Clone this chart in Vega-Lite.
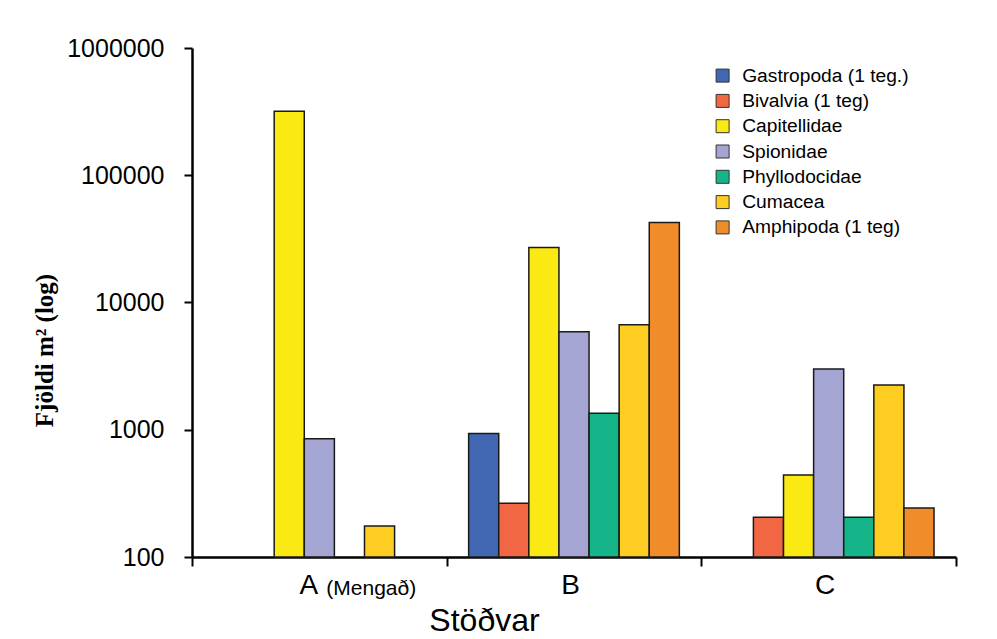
{
  "$schema": "https://vega.github.io/schema/vega-lite/v6.json",
  "width": 764,
  "height": 509,
  "autosize": {"type": "none"},
  "padding": {"left": 192, "top": 48, "right": 41, "bottom": 82},
  "background": "white",
  "config": {
    "view": {"stroke": null},
    "font": "Liberation Sans"
  },
  "datasets": {
    "bars": [
      {"station": "A", "taxon": "Capitellidae", "count": 318000},
      {"station": "A", "taxon": "Spionidae", "count": 850},
      {"station": "A", "taxon": "Cumacea", "count": 175},
      {"station": "B", "taxon": "Gastropoda (1 teg.)", "count": 935},
      {"station": "B", "taxon": "Bivalvia (1 teg)", "count": 265},
      {"station": "B", "taxon": "Capitellidae", "count": 27000},
      {"station": "B", "taxon": "Spionidae", "count": 5900},
      {"station": "B", "taxon": "Phyllodocidae", "count": 1350},
      {"station": "B", "taxon": "Cumacea", "count": 6700},
      {"station": "B", "taxon": "Amphipoda (1 teg)", "count": 42500},
      {"station": "C", "taxon": "Bivalvia (1 teg)", "count": 205},
      {"station": "C", "taxon": "Capitellidae", "count": 440},
      {"station": "C", "taxon": "Spionidae", "count": 3000},
      {"station": "C", "taxon": "Phyllodocidae", "count": 205},
      {"station": "C", "taxon": "Cumacea", "count": 2250},
      {"station": "C", "taxon": "Amphipoda (1 teg)", "count": 243}
    ],
    "notes": [
      {"station": "A", "note": "(Mengað)", "base": 100}
    ]
  },
  "layer": [
    {
      "data": {"name": "bars"},
      "mark": {"type": "bar", "stroke": "#1a1a1a", "strokeWidth": 1.5},
      "encoding": {
        "x": {
          "field": "station",
          "type": "nominal",
          "sort": ["A", "B", "C"],
          "scale": {"domain": ["A", "B", "C"], "paddingInner": 0, "paddingOuter": 0},
          "axis": {
            "title": "Stöðvar",
            "titleFont": "Liberation Sans",
            "titleFontSize": 32,
            "titleFontWeight": "normal",
            "titleColor": "black",
            "titleX": 292,
            "titleY": 73,
            "titleAlign": "center",
            "titleBaseline": "alphabetic",
            "labelAngle": 0,
            "labelFont": "Liberation Sans",
            "labelFontSize": 28,
            "labelColor": "black",
            "labelPadding": 5,
            "labelOffset": {"condition": {"test": "datum.value == 'A'", "value": -11}, "value": -4},
            "tickBand": "extent",
            "tickSize": 9,
            "tickWidth": 2,
            "tickColor": "black",
            "domainColor": "black",
            "domainWidth": 2.5,
            "grid": false
          }
        },
        "xOffset": {
          "field": "taxon",
          "type": "nominal",
          "sort": ["Gastropoda (1 teg.)", "Bivalvia (1 teg)", "Capitellidae", "Spionidae", "Phyllodocidae", "Cumacea", "Amphipoda (1 teg)"],
          "scale": {
            "domain": ["Gastropoda (1 teg.)", "Bivalvia (1 teg)", "Capitellidae", "Spionidae", "Phyllodocidae", "Cumacea", "Amphipoda (1 teg)"],
            "paddingInner": 0,
            "paddingOuter": 0.73
          }
        },
        "y": {
          "field": "count",
          "type": "quantitative",
          "scale": {"type": "log", "domain": [100, 1000000], "nice": false},
          "axis": {
            "values": [100, 1000, 10000, 100000, 1000000],
            "format": "d",
            "title": "Fjöldi m² (log)",
            "titleFont": "Liberation Serif",
            "titleFontSize": 25,
            "titleFontWeight": "bold",
            "titleColor": "black",
            "titleX": -148,
            "titleY": 302,
            "titleAngle": -90,
            "titleAlign": "center",
            "titleBaseline": "middle",
            "labelFont": "Liberation Sans",
            "labelFontSize": 25,
            "labelColor": "black",
            "labelPadding": 20,
            "tickSize": 8,
            "tickWidth": 2,
            "tickColor": "black",
            "domainColor": "black",
            "domainWidth": 2.5,
            "grid": false
          }
        },
        "y2": {"datum": 100},
        "color": {
          "field": "taxon",
          "type": "nominal",
          "scale": {
            "domain": ["Gastropoda (1 teg.)", "Bivalvia (1 teg)", "Capitellidae", "Spionidae", "Phyllodocidae", "Cumacea", "Amphipoda (1 teg)"],
            "range": ["#4267b2", "#f26743", "#fbe913", "#a4a5d3", "#15b489", "#fecd22", "#f08d2a"]
          },
          "legend": {
            "title": null,
            "orient": "none",
            "legendX": 521,
            "legendY": 18,
            "padding": 0,
            "symbolType": "square",
            "symbolSize": 169,
            "symbolStrokeColor": "#333333",
            "symbolStrokeWidth": 1,
            "symbolOpacity": 1,
            "labelFont": "Liberation Sans",
            "labelFontSize": 19.2,
            "labelColor": "black",
            "labelOffset": 10,
            "rowPadding": 5.3,
            "labelLimit": 300
          }
        }
      }
    },
    {
      "data": {"name": "notes"},
      "mark": {"type": "text", "align": "left", "baseline": "alphabetic", "dx": 7, "dy": 38, "fontSize": 21, "font": "Liberation Sans", "color": "black"},
      "encoding": {
        "x": {"field": "station", "type": "nominal"},
        "y": {"field": "base", "type": "quantitative"},
        "text": {"field": "note"}
      }
    }
  ]
}
